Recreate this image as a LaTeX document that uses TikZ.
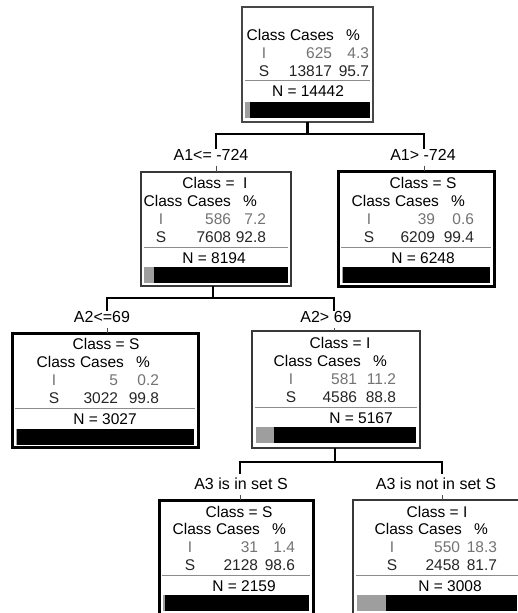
\documentclass[tikz,border=0pt]{standalone}
\usepackage{fontspec}
\setmainfont{Liberation Sans}

% Table of class counts inside a node box.
% #1 table centre x, #2 box top y, #3/#4 count and % of class I,
% #5/#6 count and % of class S, #7 right edge offset of the count column
\newcommand{\statrows}[7]{%
  \node[txt] at ({#1-42},{#2+34.5}) {Class};
  \node[txt] at ({#1+4},{#2+34.5}) {Cases};
  \node[txt] at ({#1+45},{#2+34.5}) {\%};
  \node[dimrow] at ({#1-44},{#2+52.5}) {I};
  \node[dimrow,anchor=base east] at ({#1+#7},{#2+52.5}) {#3};
  \node[dimrow,anchor=base east] at ({#1+61},{#2+52.5}) {#4};
  \node[darkrow] at ({#1-44},{#2+70.5}) {S};
  \node[darkrow,anchor=base east] at ({#1+#7},{#2+70.5}) {#5};
  \node[darkrow,anchor=base east] at ({#1+61},{#2+70.5}) {#6};
}
% Separator and N line: #1 left, #2 right, #3 top, #4 centre x of N, #5 text
\newcommand{\nline}[5]{%
  \draw[sepline] ({#1+3},{#3+75}) -- ({#2-3},{#3+75});
  \node[txt] at (#4,{#3+91.5}) {#5};
}
% Class share bar: #1 left, #2 right, #3 top, #4 fraction of class I
\newcommand{\sharebar}[4]{%
  \fill[black] (#1,#3) rectangle (#2,{#3+16});
  \fill[barg] (#1,#3) rectangle ({#1+(#2-#1)*#4},{#3+16});
}

\begin{document}
\begin{tikzpicture}[x=1pt,y=-1pt,
  every node/.style={inner sep=0pt,outer sep=0pt},
  txt/.style={font=\fontsize{15.5}{17}\selectfont,anchor=base,text=black},
  dimrow/.style={txt,text=black!55},
  darkrow/.style={txt,text=black!85},
  lbl/.style={font=\fontsize{16}{18}\selectfont,anchor=base},
  frame/.style={draw,fill=white},
  lightframe/.style={frame,draw=black!72,line width=1.6pt},
  thinframe/.style={frame,draw=black!78,line width=2.2pt},
  boldframe/.style={frame,draw=black,line width=3pt},
  conn/.style={line width=2.6pt,black},
  lead/.style={line width=0.9pt,black!70},
  sepline/.style={line width=0.8pt,black!45},
]
\definecolor{barg}{gray}{0.62}
\useasboundingbox (0,0) rectangle (518,613);
\fill[white] (0,0) rectangle (518,613);
\clip (0,0) rectangle (518,613);

% ---- node frames ----
\node[lightframe,minimum width=131pt,minimum height=115pt] (root) at (307.5,64.5) {};
\node[thinframe,minimum width=150pt,minimum height=114pt] (nA) at (216,229) {};
\node[boldframe,minimum width=156pt,minimum height=115pt] (nB) at (416,228.5) {};
\node[boldframe,minimum width=186pt,minimum height=114pt] (nC) at (105,390) {};
\node[thinframe,minimum width=168pt,minimum height=117pt] (nD) at (336,389.5) {};
\node[boldframe,minimum width=154pt,minimum height=120pt] (nE) at (236,560) {};
\node[thinframe,minimum width=168pt,minimum height=120pt] (nF) at (437,560) {};

% ---- split labels ----
\node[lbl] (lA) at (211,160.7) {A1<= -724};
\node[lbl] (lB) at (423,160.7) {A1> -724};
\node[lbl] (lC) at (102,322.7) {A2<=69};
\node[lbl] (lD) at (326,322.7) {A2> 69};
\node[lbl] (lE) at (241,489.7) {A3 is in set S};
\node[lbl] (lF) at (436,489.7) {A3 is not in set S};

% ---- branch points ----
\coordinate (h1) at (0,134);
\coordinate (h2) at (0,298);
\coordinate (h3) at (0,462);
\coordinate (sA) at (216,149);
\coordinate (sB) at (424,149);
\coordinate (sC) at (107,311);
\coordinate (sD) at (334,311);
\coordinate (sE) at (240,474);
\coordinate (sF) at (442,474);

% ---- connectors ----
\draw[conn] (root.south) -- (h1 -| root.south);
\draw[conn] (sA) |- (h1 -| root.south) -| (sB);
\draw[lead,shorten <=5pt] (lA.south -| sA) -- (sA |- nA.north);
\draw[lead,shorten <=5pt] (lB.south -| sB) -- (sB |- nB.north);

\draw[conn] (nA.south -| 213,0) -- (h2 -| 213,0);
\draw[conn] (sC) |- (h2 -| 213,0) -| (sD);
\draw[lead,shorten <=5pt] (lC.south -| sC) -- (sC |- nC.north);
\draw[lead,shorten <=5pt] (lD.south -| sD) -- (sD |- nD.north);

\draw[conn] (nD.south -| 335,0) -- (h3 -| 335,0);
\draw[conn] (sE) |- (h3 -| 335,0) -| (sF);
\draw[lead,shorten <=5pt] (lE.south -| sE) -- (sE |- nE.north);
\draw[lead,shorten <=5pt] (lF.south -| sF) -- (sF |- nF.north);

% ---- root contents ----
\statrows{308}{6}{625}{4.3}{13817}{95.7}{24}
\nline{242}{373}{5}{308}{N = 14442}
\sharebar{245}{370}{102}{0.043}

% ---- A1 <= -724 ----
\node[txt] at (215,188.5) {Class = \ I};
\statrows{205}{172}{586}{7.2}{7608}{92.8}{26}
\nline{141}{291}{172}{214}{N = 8194}
\sharebar{144}{288}{267}{0.072}

% ---- A1 > -724 ----
\node[txt] at (423,188.5) {Class = S};
\statrows{413}{172}{39}{0.6}{6209}{99.4}{22}
\nline{338}{494}{172}{423}{N = 6248}
\sharebar{342}{490}{267}{0.006}

% ---- A2 <= 69 ----
\node[txt] at (106,349.5) {Class = S};
\statrows{98}{333}{5}{0.2}{3022}{99.8}{20}
\nline{12}{198}{333}{105}{N = 3027}
\sharebar{16}{194}{429}{0.002}

% ---- A2 > 69 ----
\node[txt] at (340,348.5) {Class = I};
\statrows{335}{332}{581}{11.2}{4586}{88.8}{22}
\nline{252}{420}{332}{361}{N = 5167}
\sharebar{256}{416}{427}{0.112}

% ---- A3 in set S ----
\node[txt] at (239,517) {Class = S};
\statrows{234}{500}{31}{1.4}{2128}{98.6}{24}
\nline{159}{313}{500}{244}{N = 2159}
\sharebar{163}{309}{595}{0.014}

% ---- A3 not in set S ----
\node[txt] at (437,517) {Class = I};
\statrows{436}{500}{550}{18.3}{2458}{81.7}{24}
\nline{353}{521}{500}{450}{N = 3008}
\sharebar{357}{517}{595}{0.183}
\end{tikzpicture}
\end{document}
